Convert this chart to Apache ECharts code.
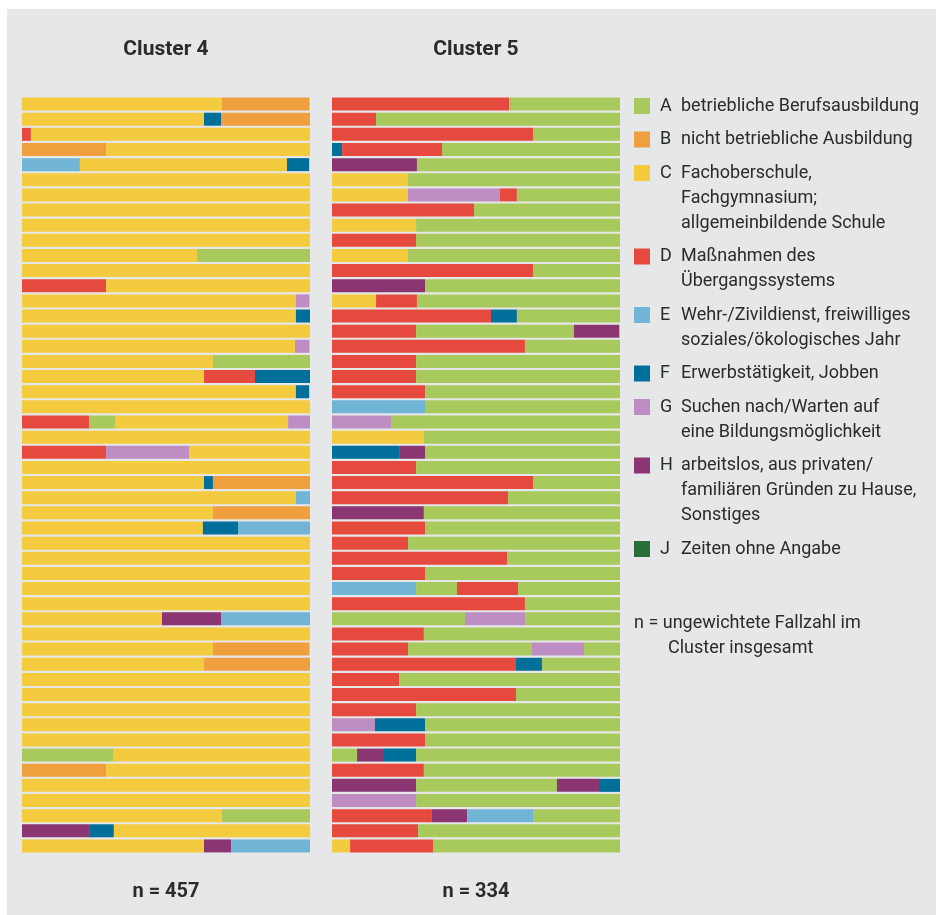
<!DOCTYPE html>
<html>
<head>
<meta charset="utf-8">
<script src="https://cdn.jsdelivr.net/npm/echarts@6/dist/echarts.min.js"></script>
<style>
html,body{margin:0;padding:0;background:#fff}
#chart{width:936px;height:915px}
</style>
</head>
<body>
<div id="chart"></div>
<script>
// states of the sequence plot
const states = ['A','B','C','D','E','F','G','H','J'];
const stateColors = ['#a8c95b','#ef9f3e','#f4ca3f','#e64a3f','#70b5d6','#006f99','#bd8dc3','#8b3672','#2a6e3a'];
const stateLabels = [
  'betriebliche Berufsausbildung',
  'nicht betriebliche Ausbildung',
  'Fachoberschule,\nFachgymnasium;\nallgemeinbildende Schule',
  'Maßnahmen des\nÜbergangssystems',
  'Wehr-/Zivildienst, freiwilliges\nsoziales/ökologisches Jahr',
  'Erwerbstätigkeit, Jobben',
  'Suchen nach/Warten auf\neine Bildungsmöglichkeit',
  'arbeitslos, aus privaten/\nfamiliären Gründen zu Hause,\nSonstiges',
  'Zeiten ohne Angabe'
];

const clusterTitles = ['Cluster 4','Cluster 5'];
const clusterN = ['n = 457','n = 334'];

// one string per sequence: state letter + end of the spell in % of the period
const cluster4 = [
  'C69.4 B99.7 C100','C63.2 F69.1 B100','D3.1 C100','B29.2 C100','E20.1 C92.0 F99.7 C100',
  'C100','C100','C100','C100','C100',
  'C60.8 A100','C100','D29.2 C100','C95.1 G99.7 C100','C95.1 F100',
  'C100','C94.8 G99.7 C100','C66.3 A100','C63.2 D80.9 F100','C95.1 F99.7 C100',
  'C100','D23.3 A32.3 C92.4 G100','C100','D29.2 G58.0 C100','C100',
  'C63.2 F66.3 B100','C95.1 E100','C66.3 B100','C62.8 F75.0 E100','C100',
  'C100','C100','C100','C100','C48.6 H69.1 E100',
  'C100','C66.3 B99.7 C100','C63.2 B100','C100','C100',
  'C100','C100','C100','A31.6 C100','B29.2 C100',
  'C100','C100','C69.4 A100','H23.3 F31.9 C100','C63.2 H72.6 E100'
];
const cluster5 = [
  'D61.5 A100','D15.3 A100','D69.8 A100','F3.5 D38.2 A100','H29.5 A100',
  'C26.4 A100','C26.4 G58.3 D64.2 A100','D49.3 A100','C29.2 A100','D29.2 A100',
  'C26.4 A100','D69.8 A100','H32.3 A100','C15.3 D29.5 A100','D55.2 F64.2 A100',
  'D29.2 A84.0 H99.7 A100','D67.0 A100','D29.2 A100','D29.2 A100','D32.3 A100',
  'E32.3 A100','G20.5 A100','C31.9 A100','F23.3 H32.3 A100','D29.2 A100',
  'D69.8 A100','D61.1 A100','H31.9 A100','D32.3 A100','D26.4 A100',
  'D60.8 A100','D32.3 A100','E29.2 A43.4 D64.6 A100','D67.0 A100','A46.2 G67.0 A100',
  'D31.9 A100','D26.4 A69.4 G87.5 A100','D63.9 F72.9 A100','D23.3 A100','D63.9 A100',
  'D29.2 A100','G14.9 F32.3 A100','D32.3 A100','A8.7 H17.7 F29.2 A100','D31.9 A100',
  'H29.2 A78.1 H92.7 F100','G29.2 A100','D34.7 H46.9 E69.8 A100','D29.9 A100','C6.3 D35.1 A100'
];

const textColor = '#2b2a2c';
const font = 'Roboto, "Noto Sans", sans-serif';

function parseRows(rows) {
  return rows.map(function (r) {
    let prev = 0;
    return r.split(' ').map(function (tok) {
      const end = parseFloat(tok.slice(1));
      const seg = { state: tok[0], len: +(end - prev).toFixed(1) };
      prev = end;
      return seg;
    });
  });
}

const clusters = [parseRows(cluster4), parseRows(cluster5)];
const rowIds = cluster4.map(function (d, i) { return i + 1; });
const gridLeft = [22, 332];

let chart = echarts.init(document.getElementById('chart'));

let series = [];
clusters.forEach(function (rows, g) {
  let maxSeg = Math.max.apply(null, rows.map(function (r) { return r.length; }));
  for (let k = 0; k < maxSeg; k++) {
    series.push({
      type: 'bar',
      xAxisIndex: g,
      yAxisIndex: g,
      stack: 'cluster' + g,
      barWidth: 13,
      silent: true,
      data: rows.map(function (r) {
        if (!r[k]) return { value: 0 };
        return { value: r[k].len, itemStyle: { color: stateColors[states.indexOf(r[k].state)] } };
      })
    });
  }
});

let graphics = [
  { type: 'rect', z: -10, shape: { x: 7, y: 9, width: 929, height: 906 }, style: { fill: '#e6e7e9' } }
];
clusterTitles.forEach(function (t, g) {
  graphics.push({ type: 'text', x: gridLeft[g] + 144, y: 50,
    style: { text: t, font: 'bold 21px ' + font, fill: textColor, textAlign: 'center', textVerticalAlign: 'middle' } });
  graphics.push({ type: 'text', x: gridLeft[g] + 144, y: 892,
    style: { text: clusterN[g], font: 'bold 20px ' + font, fill: textColor, textAlign: 'center', textVerticalAlign: 'middle' } });
});

// legend
let ly = 106;
states.forEach(function (s, i) {
  let lines = stateLabels[i].split('\n').length;
  graphics.push({ type: 'rect', shape: { x: 634, y: ly - 8, width: 16, height: 16 }, style: { fill: stateColors[i] } });
  graphics.push({ type: 'text', x: 660, y: ly,
    style: { text: s, font: '18px ' + font, fill: textColor, textVerticalAlign: 'middle' } });
  graphics.push({ type: 'text', x: 681, y: ly - 12.5,
    style: { text: stateLabels[i], font: '18px ' + font, fill: textColor, lineHeight: 25, textVerticalAlign: 'top' } });
  ly += lines * 25 + 8.5;
});
graphics.push({ type: 'text', x: 634, y: 623 - 12.5,
  style: { text: 'n = ungewichtete Fallzahl im', font: '18px ' + font, fill: textColor, lineHeight: 25, textVerticalAlign: 'top' } });
graphics.push({ type: 'text', x: 668, y: 648 - 12.5,
  style: { text: 'Cluster insgesamt', font: '18px ' + font, fill: textColor, lineHeight: 25, textVerticalAlign: 'top' } });

let opt = {
  animation: false,
  backgroundColor: '#ffffff',
  grid: [
    { left: gridLeft[0], top: 96.5, width: 288, height: 757 },
    { left: gridLeft[1], top: 96.5, width: 288, height: 757 }
  ],
  xAxis: [0, 1].map(function (g) {
    return { type: 'value', gridIndex: g, min: 0, max: 100, show: false };
  }),
  yAxis: [0, 1].map(function (g) {
    return { type: 'category', gridIndex: g, data: rowIds, inverse: true, show: false };
  }),
  graphic: graphics,
  series: series
};
chart.setOption(opt);
</script>
</body>
</html>
